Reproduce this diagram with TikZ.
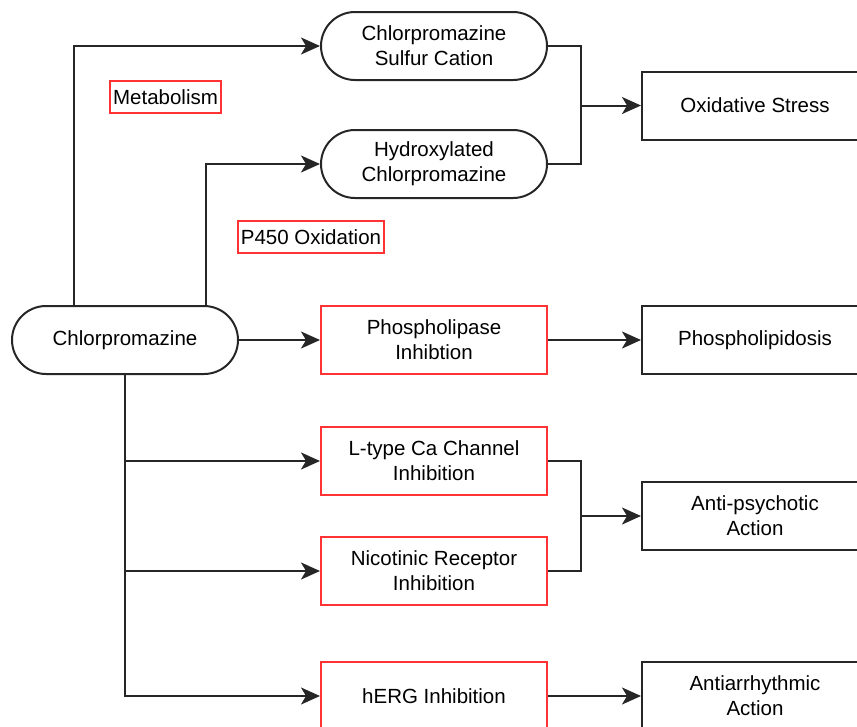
\documentclass[tikz,border=0pt]{standalone}
\usepackage{fontspec}
\setmainfont{Liberation Sans}
\usetikzlibrary{arrows.meta}
\definecolor{redline}{RGB}{255,51,51}
\begin{document}
\begin{tikzpicture}[x=1pt,y=-1pt,
  every node/.style={font=\fontsize{20.5}{25}\selectfont, align=center, line width=2pt},
  pill/.style={draw=black!85, minimum width=226pt, minimum height=68pt, rounded corners=34pt, inner sep=0pt},
  redbox/.style={draw=redline, minimum width=226pt, minimum height=68pt, inner sep=0pt},
  blackbox/.style={draw=black!85, minimum width=226pt, minimum height=68pt, inner sep=0pt},
  lbl/.style={draw=redline, minimum height=32pt, inner sep=0pt},
  conn/.style={line width=2pt, draw=black!85},
  arr/.style={conn, -{Stealth[length=19pt, width=17pt, inset=5pt]}}
]
\useasboundingbox (0,0) rectangle (857,726);
\clip (0,0) rectangle (857,726);
\node[pill] (cp) at (125,340) {Chlorpromazine};
\node[pill] (sc) at (434,46) {Chlorpromazine\\Sulfur Cation};
\node[pill] (hy) at (434,164) {Hydroxylated\\Chlorpromazine};
\node[lbl, minimum width=111pt] (met) at (165.5,97) {Metabolism};
\node[lbl, minimum width=146pt] (p450) at (311,237) {P450 Oxidation};
\node[blackbox] (os) at (755,105.5) {Oxidative Stress};
\node[redbox] (pl) at (434,340) {Phospholipase\\Inhibtion};
\node[blackbox] (pd) at (755,340) {Phospholipidosis};
\node[redbox] (lt) at (434,461) {L-type Ca Channel\\Inhibition};
\node[redbox] (nr) at (434,571) {Nicotinic Receptor\\Inhibition};
\node[blackbox] (ap) at (755,516) {Anti-psychotic\\Action};
\node[redbox] (he) at (434,696) {hERG Inhibition};
\node[blackbox] (aa) at (755,696) {Antiarrhythmic\\Action};
\coordinate (j1) at (581,105.5);
\coordinate (j2) at (581,516);
\draw[arr] ([xshift=-51pt]cp.north) |- (sc.west);
\draw[arr] ([xshift=81pt]cp.north) |- (hy.west);
\draw[arr] (cp.east) -- (pl.west);
\draw[arr] (cp.south) |- (lt.west);
\draw[arr] (cp.south) |- (nr.west);
\draw[arr] (cp.south) |- (he.west);
\draw[conn] (sc.east) -| (j1) |- (hy.east);
\draw[arr] (j1) -- (os.west);
\draw[arr] (pl.east) -- (pd.west);
\draw[conn] (lt.east) -| (j2) |- (nr.east);
\draw[arr] (j2) -- (ap.west);
\draw[arr] (he.east) -- (aa.west);
\end{tikzpicture}
\end{document}
